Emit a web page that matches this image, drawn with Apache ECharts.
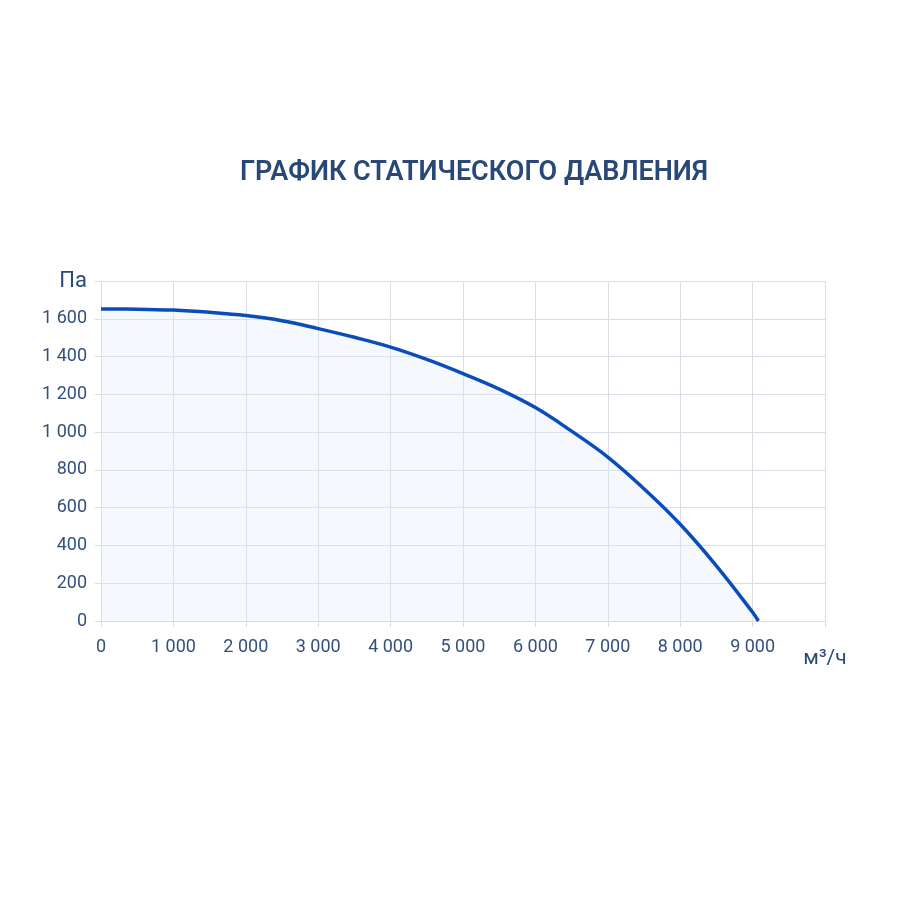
<!DOCTYPE html>
<html><head><meta charset="utf-8">
<script src="https://cdn.jsdelivr.net/npm/echarts@6/dist/echarts.min.js"></script>
<style>html,body{margin:0;padding:0;background:#fff}#c{width:900px;height:900px}</style>
</head><body><div id="c"></div>
<script>
const titleText = 'ГРАФИК СТАТИЧЕСКОГО ДАВЛЕНИЯ';
const flow = [0, 500, 1000, 1500, 2000, 2500, 3000, 3500, 4000, 4500, 5000, 5500, 6000, 6500, 7000, 7500, 8000, 8500, 9000, 9080];
const pressure = [1652, 1651, 1646, 1634, 1617, 1590, 1548, 1502, 1450, 1385, 1310, 1228, 1130, 1005, 868, 700, 512, 292, 46, 0];
const xUnit = 'м³/ч';
const yUnit = 'Па';

const chart = echarts.init(document.getElementById('c'));
const fmt = v => String(v).replace(/\B(?=(\d{3})+(?!\d))/g, ' ');
chart.setOption({
  backgroundColor: '#ffffff',
  animation: false,
  title: {
    text: titleText, left: 469, top: 155, textAlign: 'center',
    textStyle: { fontFamily: 'Roboto', fontWeight: 600, fontSize: 27, color: '#284878' }
  },
  grid: { left: 101, right: 75, top: 281, bottom: 279, containLabel: false },
  xAxis: {
    type: 'value', min: 0, max: 10000, interval: 1000,
    axisLine: { show: false },
    axisTick: { show: true, length: 6, lineStyle: { color: '#d8dde6' } },
    splitLine: { show: true, lineStyle: { color: '#d8dde6', width: 1 } },
    axisLabel: {
      margin: 17, color: '#34507a', fontFamily: 'Roboto', fontSize: 18,
      formatter: v => v === 10000 ? '{u|' + xUnit + '}' : fmt(v),
      rich: { u: { fontSize: 21, fontFamily: 'Roboto', color: '#2c4a78', padding: [10, 0, 0, 0] } }
    }
  },
  yAxis: {
    type: 'value', min: 0, max: 1800, interval: 200,
    axisLine: { show: false },
    axisTick: { show: true, length: 6, lineStyle: { color: '#d8dde6' } },
    splitLine: { show: true, lineStyle: { color: '#d8dde6', width: 1 } },
    axisLabel: {
      margin: 14, color: '#34507a', fontFamily: 'Roboto', fontSize: 18,
      formatter: v => v === 1800 ? '{u|' + yUnit + '}' : fmt(v),
      rich: { u: { fontSize: 22, fontFamily: 'Roboto', color: '#2c4a78' } }
    }
  },
  series: [{
    type: 'line', smooth: 0.4, symbol: 'none',
    data: flow.map((f, i) => [f, pressure[i]]),
    lineStyle: { color: '#0a4db8', width: 3.5 },
    areaStyle: { color: 'rgba(225,232,244,0.45)' }
  }]
});
</script></body></html>
